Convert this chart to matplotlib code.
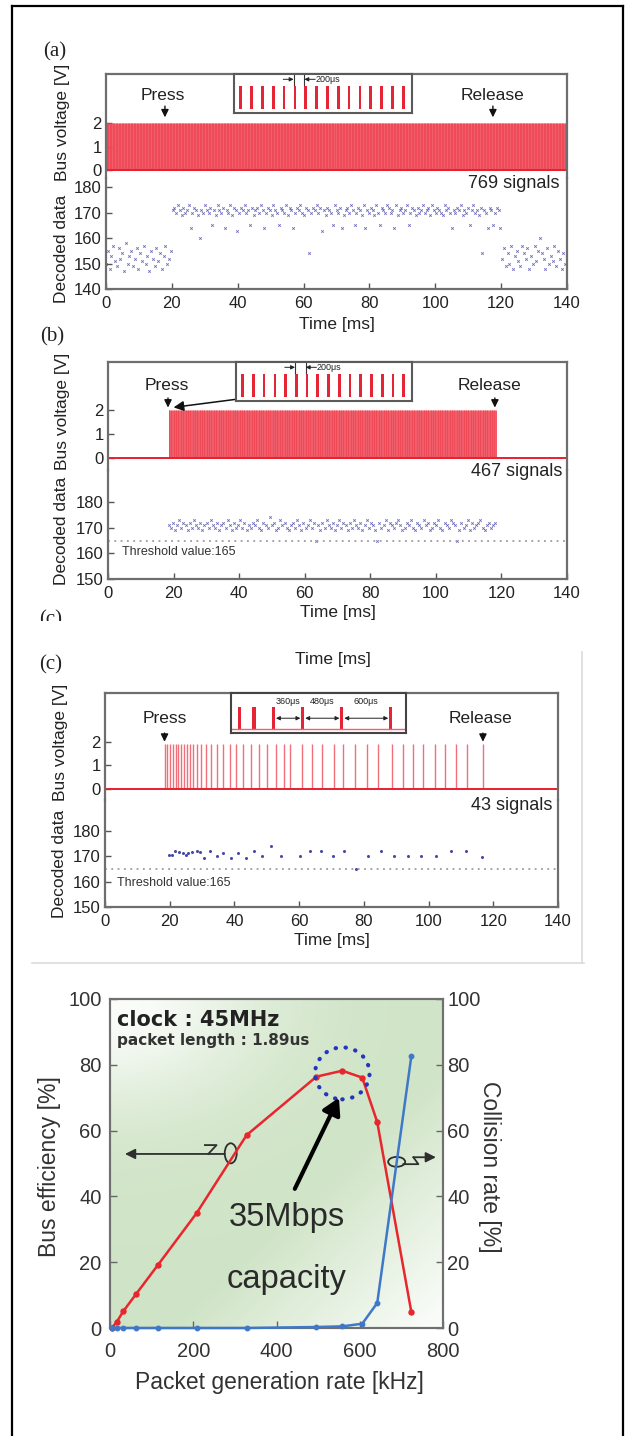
import numpy as np
import matplotlib
matplotlib.use("Agg")
import matplotlib.pyplot as plt
from matplotlib.patches import Ellipse, Rectangle
from matplotlib.lines import Line2D

plt.rcParams['font.family'] = ['Liberation Sans', 'DejaVu Sans']

# ---------------- data ----------------
time_ticks = [0, 20, 40, 60, 80, 100, 120, 140]
volt_ticks = [0, 1, 2]
threshold = 165

# (a) continuous signals
a_signal_count = 769
a_signal_span = (0, 140)
a_decoded_every = 3
a_decoded = [150,155,148,153,157,151,149,156,152,154,147,158,150,153,155,149,152,156,148,154,
             151,157,150,153,147,155,152,149,156,151,154,148,153,157,150,152,155,
             171,172,170,173,171,169,172,170,171,173,164,170,172,171,169,160,171,170,173,171,
             170,172,165,171,169,173,171,170,172,164,171,170,173,169,172,171,163,170,172,171,
             173,170,171,165,172,169,171,172,170,173,171,164,170,172,171,169,173,171,170,165,
             172,171,170,173,169,172,171,164,170,172,171,173,170,169,172,171,154,170,172,171,
             173,170,172,163,171,169,172,171,170,165,173,171,170,172,164,169,171,172,170,173,
             171,165,170,172,171,169,173,164,171,170,172,171,169,173,170,165,172,171,170,173,
             172,170,171,164,173,169,171,172,170,171,173,165,170,172,171,169,172,170,171,173,
             170,171,172,169,173,171,170,172,171,170,169,173,171,172,170,164,171,170,172,171,
             173,169,171,170,172,165,171,173,170,171,169,172,154,171,170,164,172,171,165,170,
             172,171,164,
             152,156,149,154,150,157,148,153,155,151,149,157,154,152,156,148,153,150,157,151,
             155,160,154,152,148,156,150,153,151,157,149,155,152,148,154,150,153]

# (b) signals only while pressed
b_signal_count = 467
b_signal_span = (18.5, 118.3)
b_decoded_every = 3
b_decoded = [171,170,172,169,171,173,170,172,171,169,172,170,173,171,170,172,169,171,172,170,
             173,171,170,172,169,171,172,170,173,171,169,172,170,171,173,170,172,169,171,170,
             172,171,173,170,169,172,171,170,174,171,172,169,170,173,171,172,170,169,171,172,
             170,173,171,169,172,170,171,173,170,172,165,171,169,172,170,173,171,170,172,169,
             171,173,170,172,171,169,172,170,173,171,170,172,169,171,173,170,172,171,169,165,
             172,170,171,173,169,172,171,170,172,173,171,169,170,172,171,173,170,169,172,171,
             170,173,171,172,169,170,172,171,173,170,169,172,171,170,173,172,171,165,169,172,
             170,171,173,169,172,170,171,172,173,170,169,171,172,170,171,172]

# (c) sparse signals
c_signal_times = [18.4, 19.3, 20.2, 21.0, 21.8, 22.7, 23.6, 24.4, 25.2, 26.3, 27.3, 28.4, 29.7,
                  31.2, 32.7, 34.6, 36.5, 38.6, 40.6, 42.7, 45.0, 47.6, 50.2, 52.7, 55.3, 57.3,
                  60.9, 64.0, 67.1, 70.7, 73.7, 77.3, 80.9, 84.5, 88.6, 92.2, 95.3, 98.4, 102.0,
                  105.0, 108.6, 112.0, 116.8]
c_decoded_t = [19.9, 20.6, 21.7, 22.8, 24.0, 25.0, 25.8, 26.9, 28.3, 29.3, 30.7, 32.4, 34.5,
               36.5, 38.9, 41.1, 43.5, 46.1, 48.6, 51.4, 54.3, 60.4, 63.5, 66.9, 70.4, 73.9,
               77.6, 81.4, 85.3, 89.4, 93.5, 97.8, 102.3, 106.9, 111.7, 116.6]
c_decoded_v = [170.5, 170.5, 172, 171.8, 171.3, 170.7, 171.3, 171.8, 172, 171.8, 169.2, 172,
               170.3, 171.3, 169.2, 171.3, 169.2, 172, 170.3, 174, 170.3, 170.3, 172, 172, 170.3,
               172, 165, 170.3, 172, 170.3, 170.3, 170.3, 170.3, 172, 172, 169.6]

# insets
inset_ab_pulses_us = [0, 200, 400, 600, 800, 1000, 1200, 1400, 1600, 1800, 2000, 2200,
                      2400, 2600, 2800, 3000]
inset_ab_label = "200\u03bcs"
inset_c_pulses_us = [0, 180, 420, 780, 1260, 1860]
inset_c_gap_labels = ["360\u03bcs", "480\u03bcs", "600\u03bcs"]

# bottom chart
rate_khz = [4, 16, 32, 62, 116, 208, 328, 496, 558, 606, 642, 724]
bus_eff = [0, 1.8, 5.1, 10.2, 19.3, 34.9, 58.6, 76.4, 78.2, 76.1, 62.6, 4.8]
collision = [0, 0, 0, 0, 0, 0, 0, 0.3, 0.5, 1.3, 7.6, 82.7]
rate_ticks = [0, 200, 400, 600, 800]
pct_ticks = [0, 20, 40, 60, 80, 100]

# ---------------- layout helpers ----------------
W, H = 632, 1436
fig = plt.figure(figsize=(W / 100, H / 100), dpi=100)


def box(x0, y0, x1, y1):
    return [x0 / W, 1 - y1 / H, (x1 - x0) / W, (y1 - y0) / H]


def fx(x):
    return x / W


def fy(y):
    return 1 - y / H


TXT = '#222222'
SPINE = '#6e6e6e'
BAND = '#ef4856'
RED = '#e8202e'
DOT = '#4848a8'
SERIF = ['Liberation Serif', 'DejaVu Serif']
DOT_STYLE = dict(ls='none', marker='x', ms=1.8, mew=0.6, color=DOT, alpha=0.8)


def style(ax, hide=()):
    for s in ax.spines.values():
        s.set_color(SPINE)
        s.set_linewidth(1.6)
    for s in hide:
        ax.spines[s].set_visible(False)


def make_panel(x0, x1, top, split, bottom, vlim, dlim, dticks):
    axv = fig.add_axes(box(x0, top, x1, split))
    axd = fig.add_axes(box(x0, split, x1, bottom))
    for ax in (axv, axd):
        ax.set_xlim(time_ticks[0], time_ticks[-1])
        ax.tick_params(direction='in', length=4, width=1, color='#555',
                       labelsize=12, labelcolor=TXT, pad=3)
        ax.patch.set_alpha(0)
    axv.set_ylim(*vlim)
    axd.set_ylim(*dlim)
    axv.set_yticks(volt_ticks)
    axd.set_yticks(dticks)
    axv.tick_params(axis='x', bottom=False, labelbottom=False)
    axd.set_xticks(time_ticks)
    axd.tick_params(axis='x', pad=5)
    style(axv, ['bottom'])
    style(axd, ['top'])
    return axv, axd


def press_release(ax, tp, xp, tr, xr, ty, a_top, a_tip):
    ax.text(tp, ty, 'Press', ha='center', va='center', fontsize=12.5, color=TXT)
    ax.text(tr, ty, 'Release', ha='center', va='center', fontsize=12.5, color=TXT)
    for x in (xp, xr):
        ax.annotate('', xy=(x, a_tip), xytext=(x, a_top),
                    arrowprops=dict(arrowstyle='-|>,head_length=0.45,head_width=0.22',
                                    color='#111', lw=1.0, shrinkA=0, shrinkB=0,
                                    mutation_scale=10))


def inset_ab(x0, y0, x1, y1):
    ax = fig.add_axes(box(x0, y0, x1, y1))
    ax.set_xlim(-124, 3155)
    ax.set_ylim(-0.17, 1.52)
    ax.bar(inset_ab_pulses_us, [1] * len(inset_ab_pulses_us), width=50, color='#e52535')
    p0, p1 = inset_ab_pulses_us[5] - 25, inset_ab_pulses_us[6] - 25
    ax.plot([p0, p0], [1.04, 1.5], color='#333', lw=0.8)
    ax.plot([p1, p1], [1.04, 1.5], color='#333', lw=0.8)
    ap = dict(arrowstyle='-|>,head_length=0.4,head_width=0.2', color='#222', lw=0.7,
              shrinkA=0, shrinkB=0, mutation_scale=6)
    ax.annotate('', xy=(p0, 1.29), xytext=(p0 - 190, 1.29), arrowprops=ap)
    ax.annotate('', xy=(p1, 1.29), xytext=(p1 + 200, 1.29), arrowprops=ap)
    ax.text(p1 + 210, 1.29, inset_ab_label, ha='left', va='center', fontsize=6.5, color=TXT)
    ax.set_xticks([])
    ax.set_yticks([])
    for s in ax.spines.values():
        s.set_color('#5a5a5a')
        s.set_linewidth(1.5)
    return ax


# ---------------- panel (a) ----------------
fig.text(fx(55), fy(52), '(a)', ha='center', va='center', fontsize=15, family=SERIF, color=TXT)
axv, axd = make_panel(106, 567, 74, 178, 289, (-0.34, 4.085), (140, 183.7), [140, 150, 160, 170, 180])
a_times = np.linspace(a_signal_span[0], a_signal_span[1], a_signal_count)
axv.vlines(a_times, 0, 2, color=BAND, lw=0.7, alpha=0.9)
axv.axhline(0, color=RED, lw=1.4)
press_release(axv, 17.2, 17.9, 117.4, 117.5, 3.15, 2.72, 2.24)
ta = a_times[::a_decoded_every]
n = min(len(ta), len(a_decoded))
axd.plot(ta[:n], a_decoded[:n], **DOT_STYLE)
inset_ab(234, 74, 411.7, 113)
fig.text(fx(560), fy(183.5), '769 signals', ha='right', va='center', fontsize=13, color=TXT)
fig.text(fx(62), fy(122), 'Bus voltage [V]', rotation=90, ha='center', va='center', fontsize=12.5, color=TXT)
fig.text(fx(62), fy(249), 'Decoded data', rotation=90, ha='center', va='center', fontsize=12.5, color=TXT)
fig.text(fx(337), fy(325), 'Time [ms]', ha='center', va='center', fontsize=12.5, color=TXT)

# ---------------- panel (b) ----------------
fig.text(fx(52), fy(337), '(b)', ha='center', va='center', fontsize=15, family=SERIF, color=TXT)
axv, axd = make_panel(108, 567, 362, 470, 579, (-0.5, 4.0), (150, 192.5), [150, 160, 170, 180])
b_times = np.linspace(b_signal_span[0], b_signal_span[1], b_signal_count)
axv.vlines(b_times, 0, 2, color=BAND, lw=0.7, alpha=0.9)
axv.axhline(0, color=RED, lw=1.4)
press_release(axv, 18.0, 18.3, 116.5, 118.0, 3.04, 2.5, 2.1)
axv.annotate('', xy=(20.0, 2.11), xytext=(39.3, 2.45),
             arrowprops=dict(arrowstyle='-|>,head_length=0.6,head_width=0.3', color='#111',
                             lw=1.1, shrinkA=0, shrinkB=0, mutation_scale=10))
tb = b_times[::b_decoded_every]
n = min(len(tb), len(b_decoded))
axd.plot(tb[:n], b_decoded[:n], **DOT_STYLE)
axd.axhline(threshold, color='#9c9c9c', lw=1.3, ls=(0, (1, 2.5)))
inset_ab(236, 362, 412, 401)
fig.text(fx(562), fy(472), '467 signals', ha='right', va='center', fontsize=13, color=TXT)
fig.text(fx(122.5), fy(552), 'Threshold value:%d' % threshold, ha='left', va='center', fontsize=9, color='#333')
fig.text(fx(62), fy(411), 'Bus voltage [V]', rotation=90, ha='center', va='center', fontsize=12.5, color=TXT)
fig.text(fx(62), fy(531), 'Decoded data', rotation=90, ha='center', va='center', fontsize=12.5, color=TXT)
fig.text(fx(338), fy(613), 'Time [ms]', ha='center', va='center', fontsize=12.5, color=TXT)
# clipped label remnant
fig.text(fx(51), fy(610), '(c)', ha='center', va='top', fontsize=15, family=SERIF, color=TXT)
fig.add_artist(Rectangle((fx(28), fy(648)), fx(60), (648 - 621) / H, transform=fig.transFigure,
                         facecolor='white', edgecolor='none', zorder=20))

# ---------------- panel (c) ----------------
fig.text(fx(51), fy(665), '(c)', ha='center', va='center', fontsize=15, family=SERIF, color=TXT, zorder=25)
fig.text(fx(333), fy(660), 'Time [ms]', ha='center', va='center', fontsize=12.5, color=TXT, zorder=25)
axv, axd = make_panel(105, 558, 693, 800, 907, (-0.47, 4.07), (150, 192.2), [150, 160, 170, 180])
axv.vlines(c_signal_times, 0, 1.9, color='#f0707a', lw=1.0)
axv.axhline(0, color=RED, lw=1.4)
press_release(axv, 18.5, c_signal_times[0], 116.0, c_signal_times[-1], 2.99, 2.37, 2.0)
axd.plot(c_decoded_t, c_decoded_v, ls='none', marker='o', ms=2.2, mew=0, color=DOT)
axd.axhline(threshold, color='#9c9c9c', lw=1.3, ls=(0, (1, 2.5)))

axc = fig.add_axes(box(230.7, 693, 406, 733))
axc.set_xlim(-106, 2048)
axc.set_ylim(-0.164, 1.606)
axc.bar(inset_c_pulses_us, [1] * len(inset_c_pulses_us), width=40, color='#e52535')
axc.axhline(0, color='#f06070', lw=1.0)
for i, lab in enumerate(inset_c_gap_labels):
    a0 = inset_c_pulses_us[i + 2]
    a1 = inset_c_pulses_us[i + 3]
    axc.annotate('', xy=(a1 - 30, 0.49), xytext=(a0 + 30, 0.49),
                 arrowprops=dict(arrowstyle='<|-|>,head_length=0.4,head_width=0.2', color='#222',
                                 lw=0.7, shrinkA=0, shrinkB=0, mutation_scale=6))
    axc.text((a0 + a1) / 2, 1.22, lab, ha='center', va='center', fontsize=6.5, color=TXT)
axc.set_xticks([])
axc.set_yticks([])
for s in axc.spines.values():
    s.set_color('#444444')
    s.set_linewidth(1.5)

fig.text(fx(552), fy(805), '43 signals', ha='right', va='center', fontsize=13, color=TXT)
fig.text(fx(116.7), fy(882.7), 'Threshold value:%d' % threshold, ha='left', va='center', fontsize=9, color='#333')
fig.text(fx(60), fy(742), 'Bus voltage [V]', rotation=90, ha='center', va='center', fontsize=12.5, color=TXT)
fig.text(fx(60), fy(864), 'Decoded data', rotation=90, ha='center', va='center', fontsize=12.5, color=TXT)
fig.text(fx(332), fy(940), 'Time [ms]', ha='center', va='center', fontsize=12.5, color=TXT)
fig.add_artist(Line2D([fx(582), fx(582)], [fy(652), fy(963)], transform=fig.transFigure, color='#dcdcdc', lw=1.2))
fig.add_artist(Line2D([fx(32), fx(584)], [fy(963), fy(963)], transform=fig.transFigure, color='#dcdcdc', lw=1.2))

# ---------------- bottom chart ----------------
axb = fig.add_axes(box(110, 999, 443, 1328))
axb.set_xlim(rate_ticks[0], rate_ticks[-1])
axb.set_ylim(pct_ticks[0], pct_ticks[-1])
gu, gv = np.meshgrid(np.linspace(0, 1, 160), np.linspace(0, 1, 160))
w_tl = 0.92 * np.exp(-(((gu - 0.0) / 0.45) ** 2 + ((gv - 1.0) / 0.32) ** 2))
w_br = np.clip((gu - gv - 0.2) / 0.85, 0, 1)
w = np.maximum(w_tl, w_br)[..., None]
green = np.array([0.815, 0.895, 0.78])
img = green[None, None, :] * (1 - w) + w
axb.imshow(img, extent=[rate_ticks[0], rate_ticks[-1], pct_ticks[0], pct_ticks[-1]],
           origin='lower', aspect='auto', zorder=0, interpolation='bilinear')
axb.plot(rate_khz, bus_eff, color='#e8262e', lw=1.8, marker='o', ms=3.6, zorder=3, clip_on=False)

# annotations
axb.text(16, 93.5, 'clock : 45MHz', ha='left', va='center', fontsize=15, fontweight='bold',
         family=['DejaVu Sans'], color='#222')
axb.text(16, 86.0, 'packet length : 1.89us', ha='left', va='baseline', fontsize=11,
         fontweight='bold', family=['DejaVu Sans'], color='#333')
circ = Ellipse((558, 77.4), 131, 15.8, fill=False, edgecolor='#2435c0', lw=3,
               linestyle=(0, (0.1, 2.3)), zorder=4)
circ.set_capstyle('round')
axb.add_patch(circ)
axb.annotate('', xy=(550, 70), xytext=(444, 42.3),
             arrowprops=dict(arrowstyle='-|>,head_length=0.7,head_width=0.4', color='black',
                             lw=3, shrinkA=0, shrinkB=0, mutation_scale=14), zorder=5)
axb.text(424, 33.6, '35Mbps', ha='center', va='center', fontsize=23.5, color='#2a2a2a')
axb.text(424, 14.8, 'capacity', ha='center', va='center', fontsize=23.5, color='#2a2a2a')
ann = dict(color='#2e2e2e', lw=1.3)
axb.annotate('', xy=(36, 52.9), xytext=(276, 52.9),
             arrowprops=dict(arrowstyle='-|>,head_length=0.6,head_width=0.3', color='#2e2e2e',
                             lw=1.3, shrinkA=0, shrinkB=0, mutation_scale=10))
axb.plot([228, 256, 236], [55.6, 55.6, 52.9], **ann)
axb.add_patch(Ellipse((290, 53.1), 28.8, 6.1, fill=False, edgecolor='#2e2e2e', lw=1.3))
axb.add_patch(Ellipse((688.7, 50.5), 40.8, 3.0, fill=False, edgecolor='#2e2e2e', lw=1.3, zorder=5))
axb.plot([704.8, 740.8, 728.8], [49.8, 49.8, 51.9], **ann)
axb.annotate('', xy=(783, 51.9), xytext=(728.8, 51.9),
             arrowprops=dict(arrowstyle='-|>,head_length=0.6,head_width=0.3', color='#2e2e2e',
                             lw=1.3, shrinkA=0, shrinkB=0, mutation_scale=10))

axr = axb.twinx()
axr.set_ylim(pct_ticks[0], pct_ticks[-1])
axr.plot(rate_khz, collision, color='#3f78c8', lw=1.8, marker='o', ms=3.2, zorder=3, clip_on=False)

axb.set_xticks(rate_ticks)
axb.set_yticks(pct_ticks)
axr.set_yticks(pct_ticks)
for ax in (axb, axr):
    ax.tick_params(direction='in', length=5, width=1, color='#666', labelsize=14.5, labelcolor='#333')
    for s in ax.spines.values():
        s.set_color('#707070')
        s.set_linewidth(1.5)
axb.tick_params(axis='x', pad=10)
axb.tick_params(axis='y', pad=6)
axr.tick_params(axis='y', pad=3)
fig.text(fx(50), fy(1167), 'Bus efficiency [%]', rotation=90, ha='center', va='center', fontsize=16.5, color='#333')
fig.text(fx(489), fy(1167), 'Collision rate [%]', rotation=270, ha='center', va='center', fontsize=16.5, color='#333')
fig.text(fx(279), fy(1383), 'Packet generation rate [kHz]', ha='center', va='center', fontsize=16.5, color='#333')

# ---------------- outer frame ----------------
for xs, ys in (([12, 12], [6, 1436]), ([12, 623], [6, 6]), ([623, 623], [6, 1436])):
    fig.add_artist(Line2D([fx(v) for v in xs], [fy(v) for v in ys], transform=fig.transFigure,
                          color='black', lw=1.6, zorder=30))

fig.savefig('out.png', dpi=100, facecolor='white')
